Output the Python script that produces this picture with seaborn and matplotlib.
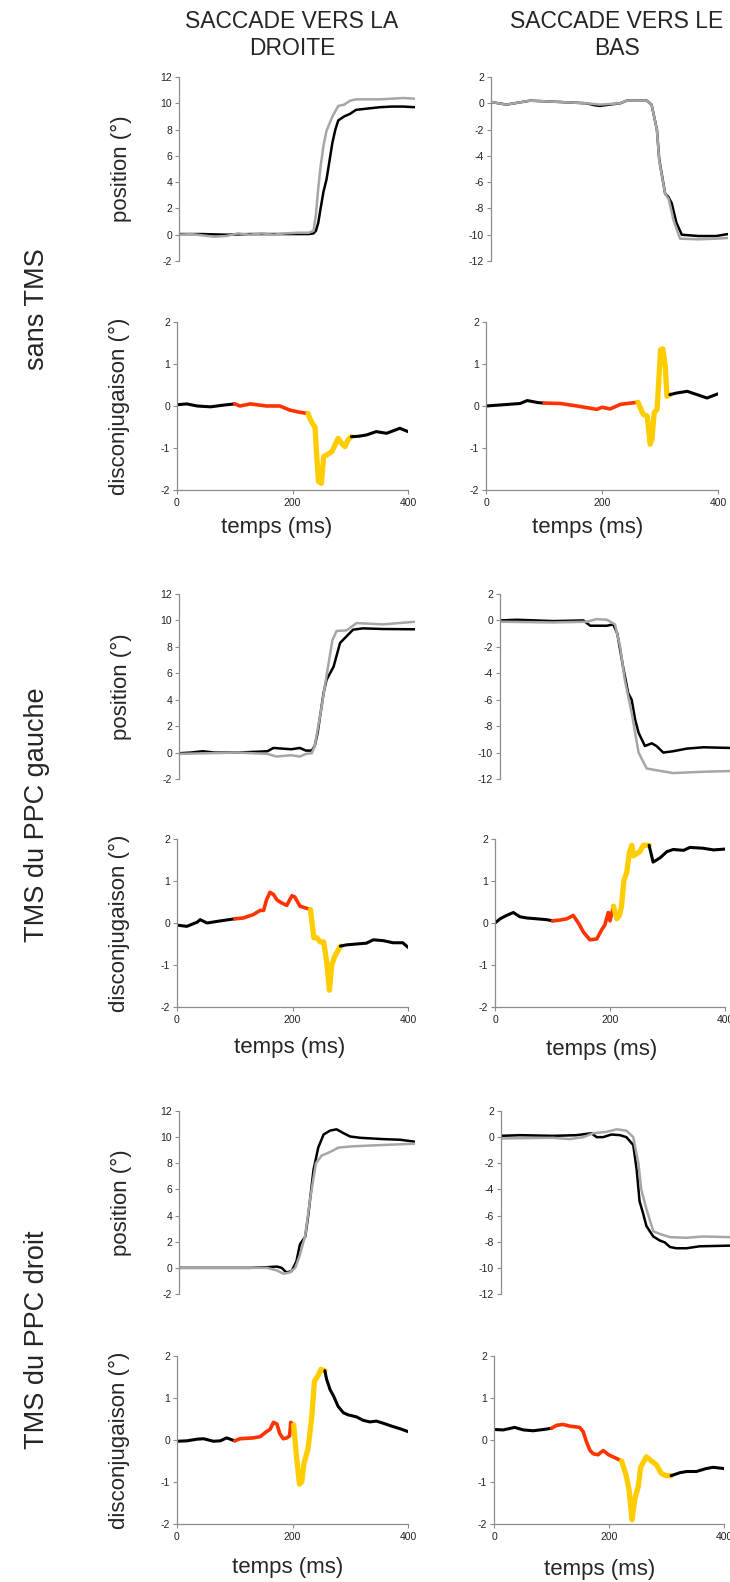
import numpy as np
import pandas as pd
import seaborn as sns
import matplotlib
matplotlib.use("Agg")
import matplotlib.pyplot as plt

# ---- data (time in ms, angle in degrees) ----
row_labels = ["sans TMS", "TMS du PPC gauche", "TMS du PPC droit"]
col_titles = ["SACCADE VERS LA\nDROITE", "SACCADE VERS LE\nBAS"]

# position traces: black and grey eye
t_pos_00_k = [0, 40, 80, 120, 160, 190, 200, 220, 228, 232, 236, 240, 245, 250, 255, 260, 265, 270, 280, 290, 300, 320, 340, 360, 380, 400]
v_pos_00_k = [0.05, 0.05, 0.0, 0.05, 0.05, 0.05, 0.05, 0.05, 0.1, 0.3, 0.9, 2.0, 3.3, 4.2, 5.6, 7.0, 8.0, 8.7, 9.0, 9.2, 9.5, 9.6, 9.7, 9.75, 9.75, 9.7]
t_pos_00_g = [0, 20, 40, 60, 80, 100, 120, 140, 160, 180, 200, 220, 228, 232, 236, 240, 245, 250, 260, 270, 280, 290, 300, 340, 380, 400]
v_pos_00_g = [0.0, 0.05, -0.05, -0.15, -0.1, 0.1, 0.0, 0.1, 0.0, 0.1, 0.15, 0.15, 0.3, 1.5, 3.5, 5.2, 6.8, 7.9, 9.0, 9.8, 9.9, 10.2, 10.3, 10.3, 10.4, 10.35]

t_pos_01_k = [0, 26, 66, 116, 161, 175, 184, 200, 218, 229, 263, 271, 280, 284, 294, 299, 305, 313, 322, 350, 380, 400]
v_pos_01_k = [0.1, -0.1, 0.2, 0.1, 0.0, -0.15, -0.2, -0.1, 0.0, 0.2, 0.2, -0.1, -2.0, -4.3, -6.9, -7.1, -7.6, -9.1, -10.0, -10.1, -10.1, -9.95]
t_pos_01_g = [0, 26, 66, 116, 161, 184, 218, 229, 263, 271, 280, 284, 294, 300, 308, 319, 350, 380, 400]
v_pos_01_g = [0.1, -0.1, 0.2, 0.1, 0.0, -0.1, 0.0, 0.2, 0.2, -0.1, -2.0, -4.4, -6.9, -7.3, -8.9, -10.3, -10.35, -10.3, -10.25]

t_pos_10_k = [0, 20, 40, 60, 100, 150, 160, 175, 190, 205, 215, 225, 230, 235, 240, 245, 250, 262, 273, 284, 295, 312, 346, 400]
v_pos_10_k = [-0.05, 0.0, 0.1, 0.0, 0.0, 0.1, 0.35, 0.3, 0.25, 0.35, 0.15, 0.15, 0.5, 1.5, 3.0, 4.5, 5.5, 6.5, 8.3, 8.8, 9.3, 9.4, 9.35, 9.33]
t_pos_10_g = [0, 50, 100, 150, 165, 190, 205, 215, 225, 230, 240, 250, 260, 267, 284, 301, 346, 400]
v_pos_10_g = [-0.1, -0.05, 0.0, -0.1, -0.3, -0.2, -0.3, -0.1, -0.05, 0.5, 3.0, 5.8, 8.5, 9.2, 9.25, 9.8, 9.7, 9.9]

t_pos_11_k = [0, 29, 93, 145, 157, 186, 197, 204, 214, 223, 229, 235, 241, 252, 264, 272, 284, 301, 325, 354, 400]
v_pos_11_k = [0.0, 0.05, -0.05, 0.0, -0.4, -0.4, -0.3, -1.0, -3.5, -5.5, -6.0, -7.5, -8.5, -9.5, -9.3, -9.5, -10.0, -9.9, -9.7, -9.6, -9.65]
t_pos_11_g = [0, 93, 151, 168, 186, 200, 209, 217, 229, 241, 255, 267, 301, 354, 400]
v_pos_11_g = [-0.1, -0.15, -0.1, 0.1, 0.05, -0.3, -2.0, -4.5, -7.0, -10.0, -11.2, -11.3, -11.55, -11.45, -11.4]

t_pos_20_k = [0, 60, 120, 149, 166, 174, 182, 191, 199, 205, 214, 219, 228, 236, 245, 256, 267, 279, 290, 307, 346, 375, 400]
v_pos_20_k = [0.0, 0.0, 0.0, 0.05, 0.1, 0.0, -0.35, -0.25, 0.5, 1.8, 2.4, 4.0, 7.5, 9.2, 10.2, 10.5, 10.6, 10.3, 10.05, 9.95, 9.85, 9.8, 9.65]
t_pos_20_g = [0, 60, 120, 149, 166, 177, 188, 197, 205, 214, 222, 232, 242, 253, 262, 270, 295, 346, 400]
v_pos_20_g = [0.0, 0.0, 0.0, 0.0, -0.2, -0.45, -0.35, 0.0, 1.0, 2.5, 5.2, 8.0, 8.6, 8.8, 9.0, 9.2, 9.3, 9.4, 9.5]

t_pos_21_k = [0, 33, 91, 132, 149, 158, 167, 178, 193, 208, 219, 231, 237, 242, 248, 254, 266, 277, 286, 295, 306, 324, 347, 400]
v_pos_21_k = [0.1, 0.15, 0.1, 0.15, 0.25, 0.3, 0.0, 0.0, 0.2, 0.15, 0.0, -0.6, -2.5, -4.9, -5.8, -6.8, -7.6, -7.9, -8.05, -8.4, -8.5, -8.5, -8.35, -8.3]
t_pos_21_g = [0, 91, 120, 144, 161, 184, 202, 219, 231, 240, 245, 254, 266, 277, 295, 324, 353, 400]
v_pos_21_g = [-0.1, -0.05, -0.15, 0.0, 0.3, 0.4, 0.6, 0.5, 0.0, -2.0, -4.0, -5.5, -7.2, -7.4, -7.65, -7.7, -7.6, -7.65]

# disconjugaison traces + phase limits (red start, yellow start, black again)
t_dis_0L = [0, 17, 35, 58, 80, 100, 109, 127, 155, 178, 196, 213, 227, 230, 236, 239, 242, 245, 250, 254, 259, 268, 279, 285, 291, 296, 302, 315, 328, 345, 363, 386, 400]
v_dis_0L = [0.03, 0.05, 0.0, -0.02, 0.02, 0.05, 0.0, 0.05, 0.0, 0.0, -0.1, -0.15, -0.18, -0.3, -0.45, -0.5, -1.2, -1.8, -1.84, -1.2, -1.17, -1.09, -0.77, -0.89, -0.97, -0.81, -0.73, -0.72, -0.69, -0.61, -0.65, -0.53, -0.61]
ph_dis_0L = [100, 227, 302]

t_dis_0R = [0, 30, 59, 71, 90, 100, 128, 157, 174, 191, 200, 214, 232, 262, 271, 278, 283, 286, 290, 295, 301, 305, 309, 312, 317, 329, 347, 364, 381, 400]
v_dis_0R = [0.0, 0.03, 0.06, 0.13, 0.08, 0.07, 0.06, 0.0, -0.04, -0.08, -0.03, -0.07, 0.04, 0.09, -0.2, -0.24, -0.91, -0.8, -0.16, -0.08, 1.34, 1.36, 0.95, 0.23, 0.27, 0.31, 0.35, 0.27, 0.19, 0.29]
ph_dis_0R = [100, 262, 317]

t_dis_1L = [0, 17, 35, 40, 52, 75, 100, 115, 132, 144, 150, 155, 161, 167, 173, 181, 190, 199, 204, 213, 231, 237, 242, 248, 254, 259, 264, 268, 273, 279, 283, 294, 311, 328, 340, 357, 374, 391, 400]
v_dis_1L = [-0.05, -0.08, 0.02, 0.08, 0.0, 0.05, 0.1, 0.12, 0.2, 0.3, 0.3, 0.55, 0.73, 0.68, 0.55, 0.48, 0.42, 0.65, 0.62, 0.4, 0.32, -0.35, -0.35, -0.45, -0.45, -0.9, -1.6, -1.0, -0.8, -0.65, -0.55, -0.52, -0.5, -0.48, -0.4, -0.42, -0.47, -0.47, -0.58]
ph_dis_1L = [100, 231, 283]

t_dis_1R = [0, 9, 20, 32, 43, 55, 72, 90, 100, 113, 125, 136, 145, 154, 165, 177, 186, 191, 197, 200, 206, 212, 217, 220, 224, 229, 234, 238, 241, 252, 258, 268, 275, 287, 299, 310, 328, 339, 362, 380, 400]
v_dis_1R = [0.0, 0.1, 0.18, 0.25, 0.15, 0.12, 0.1, 0.08, 0.05, 0.07, 0.1, 0.18, 0.0, -0.22, -0.4, -0.38, -0.15, -0.05, 0.25, 0.05, 0.4, 0.1, 0.2, 0.4, 1.0, 1.2, 1.7, 1.85, 1.6, 1.7, 1.85, 1.85, 1.45, 1.55, 1.7, 1.75, 1.73, 1.8, 1.78, 1.74, 1.76]
ph_dis_1R = [100, 206, 268]

t_dis_2L = [0, 17, 35, 46, 63, 75, 86, 100, 109, 132, 144, 155, 161, 167, 173, 178, 184, 190, 195, 197, 202, 207, 212, 216, 220, 227, 233, 238, 245, 249, 256, 259, 265, 271, 279, 288, 296, 311, 322, 334, 345, 357, 374, 386, 400]
v_dis_2L = [-0.03, -0.02, 0.02, 0.03, -0.03, -0.02, 0.05, -0.02, 0.03, 0.05, 0.08, 0.2, 0.25, 0.42, 0.38, 0.15, 0.03, 0.05, 0.1, 0.42, 0.36, -0.4, -1.05, -1.0, -0.55, -0.2, 0.5, 1.4, 1.55, 1.68, 1.65, 1.45, 1.2, 1.05, 0.8, 0.65, 0.6, 0.55, 0.47, 0.43, 0.45, 0.4, 0.32, 0.27, 0.2]
ph_dis_2L = [100, 202, 256]

t_dis_2R = [0, 16, 36, 51, 68, 86, 100, 109, 120, 132, 149, 155, 161, 167, 173, 181, 190, 199, 207, 222, 230, 235, 240, 245, 251, 255, 265, 274, 283, 291, 300, 308, 323, 335, 352, 369, 381, 400]
v_dis_2R = [0.25, 0.24, 0.3, 0.24, 0.22, 0.25, 0.28, 0.35, 0.37, 0.33, 0.3, 0.2, -0.05, -0.25, -0.33, -0.35, -0.25, -0.35, -0.4, -0.5, -0.85, -1.2, -1.9, -1.4, -1.1, -0.65, -0.4, -0.5, -0.6, -0.8, -0.85, -0.85, -0.78, -0.75, -0.75, -0.68, -0.65, -0.68]
ph_dis_2R = [100, 222, 308]

pos_data = [[(t_pos_00_k, v_pos_00_k, t_pos_00_g, v_pos_00_g), (t_pos_01_k, v_pos_01_k, t_pos_01_g, v_pos_01_g)],
            [(t_pos_10_k, v_pos_10_k, t_pos_10_g, v_pos_10_g), (t_pos_11_k, v_pos_11_k, t_pos_11_g, v_pos_11_g)],
            [(t_pos_20_k, v_pos_20_k, t_pos_20_g, v_pos_20_g), (t_pos_21_k, v_pos_21_k, t_pos_21_g, v_pos_21_g)]]
dis_data = [[(t_dis_0L, v_dis_0L, ph_dis_0L), (t_dis_0R, v_dis_0R, ph_dis_0R)],
            [(t_dis_1L, v_dis_1L, ph_dis_1L), (t_dis_1R, v_dis_1R, ph_dis_1R)],
            [(t_dis_2L, v_dis_2L, ph_dis_2L), (t_dis_2R, v_dis_2R, ph_dis_2R)]]

# ---- layout (pixels of a 730x1582 canvas) ----
W, H = 730, 1582
pos_boxes = [[(179, 415, 77, 261), (491, 728, 77, 261)],
             [(179, 415, 594, 779), (500, 730, 594, 779)],
             [(179, 415, 1111, 1294), (501, 730, 1111, 1294)]]
dis_boxes = [[(177, 408, 322, 490), (486, 718, 322, 490)],
             [(177, 408, 839, 1007), (495, 725, 839, 1007)],
             [(177, 408, 1356, 1524), (494, 724, 1356, 1524)]]
xlabel_pos = [[(277, 528), (588, 528)], [(290, 1048), (602, 1050)], [(288, 1567), (600, 1569)]]
row_label_y = [309, 815, 1340]

sns.set_theme(style="white")
plt.rcParams['font.family'] = ['Liberation Sans', 'DejaVu Sans']
plt.rcParams['axes.unicode_minus'] = False

fig = plt.figure(figsize=(W / 100, H / 100), dpi=100)
fig.patch.set_facecolor("white")

GREY_AX = "#8c8c8c"
BLACK = "#000000"
GREY = "#a6a6a6"
RED = "#ff3300"
YELLOW = "#ffcc00"


def add_ax(box):
    x0, x1, y0, y1 = box
    return fig.add_axes([x0 / W, 1 - y1 / H, (x1 - x0) / W, (y1 - y0) / H])


def style_ax(ax, xaxis):
    ax.set_facecolor("none")
    for s in ["top", "right"]:
        ax.spines[s].set_visible(False)
    ax.spines["left"].set_color(GREY_AX)
    ax.spines["left"].set_linewidth(0.9)
    if xaxis:
        ax.spines["bottom"].set_color(GREY_AX)
        ax.spines["bottom"].set_linewidth(0.9)
    else:
        ax.spines["bottom"].set_visible(False)
    ax.tick_params(axis="y", which="both", left=True, length=3, width=0.8, color=GREY_AX,
                   labelsize=7.5, labelcolor="#222222", pad=2)
    ax.tick_params(axis="x", which="both", bottom=xaxis, length=3, width=0.8, color=GREY_AX,
                   labelsize=7.5, labelcolor="#222222", pad=3, labelbottom=xaxis)
    ax.set_xlabel("")
    ax.set_ylabel("")
    ax.grid(False)


for r in range(3):
    for c in range(2):
        # position panel
        ax = add_ax(pos_boxes[r][c])
        tk, vk, tg, vg = pos_data[r][c]
        sns.lineplot(x=tk, y=vk, ax=ax, color=BLACK, linewidth=1.8, sort=False, estimator=None)
        sns.lineplot(x=tg, y=vg, ax=ax, color=GREY, linewidth=1.8, sort=False, estimator=None)
        ax.set_xlim(0, 400)
        if c == 0:
            ax.set_ylim(-2, 12)
            ax.set_yticks(range(-2, 13, 2))
        else:
            ax.set_ylim(-12, 2)
            ax.set_yticks(range(-12, 3, 2))
        style_ax(ax, False)
        ax.set_xticks([])
        if c == 0:
            fig.text(121 / W, 1 - ((pos_boxes[r][c][2] + pos_boxes[r][c][3]) / 2) / H, "position (°)",
                     rotation=90, ha="center", va="center", fontsize=16)

        # disconjugaison panel
        ax = add_ax(dis_boxes[r][c])
        t, v, ph = dis_data[r][c]
        df = pd.DataFrame({"t": t, "v": v})
        segs = [(df[df.t <= ph[0]], BLACK, 2.2),
                (df[(df.t >= ph[0]) & (df.t <= ph[1])], RED, 2.6),
                (df[(df.t >= ph[1]) & (df.t <= ph[2])], YELLOW, 3.8),
                (df[df.t >= ph[2]], BLACK, 2.2)]
        for seg, col, lw in segs:
            sns.lineplot(data=seg, x="t", y="v", ax=ax, color=col, linewidth=lw,
                         sort=False, estimator=None, solid_capstyle="round")
        ax.set_xlim(0, 400)
        ax.set_ylim(-2, 2)
        ax.set_yticks([-2, -1, 0, 1, 2])
        ax.set_xticks([0, 200, 400])
        style_ax(ax, True)
        if c == 0:
            fig.text(119 / W, 1 - ((dis_boxes[r][c][2] + dis_boxes[r][c][3]) / 2) / H, "disconjugaison (°)",
                     rotation=90, ha="center", va="center", fontsize=16)
        lx, ly = xlabel_pos[r][c]
        fig.text(lx / W, 1 - ly / H, "temps (ms)", ha="center", va="center", fontsize=16)

for r, y in enumerate(row_labels):
    fig.text(37 / W, 1 - row_label_y[r] / H, y, rotation=90, ha="center", va="center", fontsize=19.5)

fig.text(292 / W, 1 - 35 / H, col_titles[0], ha="center", va="center", fontsize=16.5, linespacing=1.25)
fig.text(617 / W, 1 - 35 / H, col_titles[1], ha="center", va="center", fontsize=16.5, linespacing=1.25)

fig.savefig("out.png", dpi=100, facecolor="white")
